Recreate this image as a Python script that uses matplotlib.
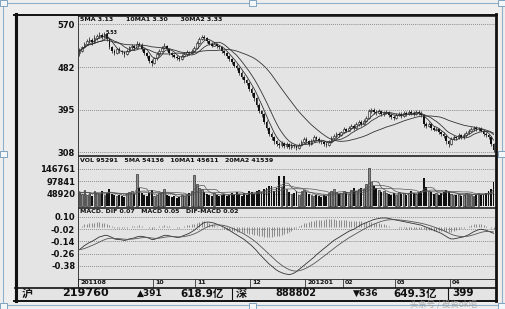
import numpy as np
import pandas as pd
import matplotlib

matplotlib.use('Agg')
import matplotlib.pyplot as plt
from matplotlib.patches import Rectangle
from matplotlib.transforms import blended_transform_factory

plt.rcParams['font.family'] = ['DejaVu Sans', 'Noto Sans CJK SC']

W, H = 505, 309
BG = '#e4e4e4'
INK = '#111111'

# daily closes, 2011-08 .. 2012-04
closes = [
    5.15, 5.22, 5.30, 5.35, 5.38, 5.33, 5.42, 5.45, 5.48, 5.44, 5.50,
    5.40, 5.22, 5.15, 5.10, 5.18, 5.14, 5.12, 5.08, 5.15, 5.22,
    5.25, 5.20, 5.30, 5.28, 5.18, 5.10, 5.05, 4.95, 4.90, 5.00,
    5.08, 5.15, 5.20, 5.26, 5.18, 5.10, 5.06, 5.03, 5.00, 4.98,
    5.05, 5.08, 5.12, 5.10, 5.15, 5.20, 5.32, 5.40, 5.44, 5.42,
    5.35, 5.30, 5.26, 5.30, 5.25, 5.22, 5.15, 5.10, 5.04, 4.98,
    4.92, 4.85, 4.80, 4.70, 4.62, 4.55, 4.50, 4.38, 4.28, 4.18,
    4.05, 3.92, 3.85, 3.70, 3.58, 3.45, 3.38, 3.30, 3.25, 3.22,
    3.26, 3.20, 3.24, 3.18, 3.22, 3.20, 3.17, 3.22, 3.28, 3.35,
    3.30, 3.25, 3.30, 3.38, 3.35, 3.30, 3.28, 3.25, 3.22, 3.28,
    3.36, 3.40, 3.45, 3.42, 3.48, 3.55, 3.52, 3.58, 3.62, 3.58,
    3.65, 3.70, 3.66, 3.72, 3.78, 3.92, 3.95, 3.90, 3.88, 3.92,
    3.85, 3.88, 3.90, 3.84, 3.80, 3.78, 3.84, 3.86, 3.82, 3.88,
    3.86, 3.90, 3.88, 3.86, 3.90, 3.88, 3.84, 3.65, 3.62, 3.66,
    3.58, 3.54, 3.56, 3.48, 3.45, 3.40, 3.30, 3.24, 3.35, 3.38,
    3.36, 3.42, 3.38, 3.42, 3.46, 3.52, 3.55, 3.58, 3.55, 3.56,
    3.52, 3.45, 3.42, 3.38, 3.25, 3.12,
]
first_open = 5.10
highs = [
    5.20, 5.26, 5.34, 5.40, 5.44, 5.41, 5.47, 5.50, 5.53, 5.51, 5.53,
    5.52, 5.42, 5.25, 5.18, 5.21, 5.22, 5.17, 5.15, 5.18, 5.26,
    5.30, 5.28, 5.35, 5.34, 5.31, 5.20, 5.13, 5.07, 4.98, 5.03,
    5.12, 5.19, 5.24, 5.31, 5.28, 5.21, 5.13, 5.09, 5.06, 5.04,
    5.08, 5.12, 5.16, 5.15, 5.18, 5.24, 5.36, 5.44, 5.48, 5.47,
    5.44, 5.38, 5.33, 5.34, 5.32, 5.28, 5.24, 5.17, 5.12, 5.06,
    5.01, 4.95, 4.88, 4.82, 4.73, 4.65, 4.58, 4.52, 4.41, 4.31,
    4.20, 4.08, 3.95, 3.87, 3.73, 3.60, 3.48, 3.41, 3.33, 3.28,
    3.30, 3.29, 3.28, 3.27, 3.26, 3.25, 3.23, 3.26, 3.32, 3.39,
    3.38, 3.33, 3.34, 3.42, 3.41, 3.38, 3.33, 3.31, 3.28, 3.32,
    3.40, 3.44, 3.49, 3.48, 3.52, 3.59, 3.58, 3.62, 3.66, 3.65,
    3.69, 3.74, 3.73, 3.76, 3.82, 3.96, 3.99, 3.98, 3.93, 3.96,
    3.94, 3.92, 3.94, 3.92, 3.87, 3.83, 3.88, 3.90, 3.89, 3.92,
    3.91, 3.94, 3.93, 3.91, 3.94, 3.93, 3.91, 3.86, 3.69, 3.70,
    3.68, 3.61, 3.60, 3.58, 3.51, 3.48, 3.42, 3.33, 3.39, 3.42,
    3.41, 3.46, 3.45, 3.46, 3.50, 3.56, 3.59, 3.62, 3.61, 3.60,
    3.59, 3.54, 3.48, 3.45, 3.40, 3.27,
]
lows = [
    5.05, 5.12, 5.20, 5.27, 5.31, 5.28, 5.31, 5.38, 5.41, 5.40, 5.42,
    5.36, 5.18, 5.10, 5.06, 5.08, 5.11, 5.08, 5.03, 5.06, 5.13,
    5.19, 5.16, 5.18, 5.24, 5.15, 5.06, 5.01, 4.90, 4.84, 4.88,
    4.97, 5.05, 5.12, 5.18, 5.15, 5.07, 5.02, 5.00, 4.96, 4.94,
    4.96, 5.02, 5.05, 5.07, 5.08, 5.13, 5.18, 5.30, 5.37, 5.38,
    5.32, 5.27, 5.22, 5.24, 5.21, 5.18, 5.11, 5.06, 5.00, 4.94,
    4.88, 4.81, 4.76, 4.66, 4.58, 4.50, 4.45, 4.33, 4.23, 4.13,
    4.00, 3.87, 3.80, 3.65, 3.53, 3.40, 3.33, 3.25, 3.20, 3.17,
    3.19, 3.16, 3.17, 3.14, 3.15, 3.16, 3.13, 3.14, 3.20, 3.26,
    3.26, 3.21, 3.22, 3.28, 3.31, 3.26, 3.24, 3.21, 3.18, 3.20,
    3.26, 3.33, 3.37, 3.38, 3.40, 3.46, 3.48, 3.50, 3.55, 3.54,
    3.56, 3.62, 3.62, 3.64, 3.70, 3.76, 3.88, 3.86, 3.84, 3.85,
    3.81, 3.82, 3.85, 3.80, 3.76, 3.74, 3.76, 3.81, 3.78, 3.80,
    3.82, 3.83, 3.84, 3.82, 3.83, 3.84, 3.80, 3.60, 3.57, 3.59,
    3.54, 3.50, 3.51, 3.44, 3.41, 3.36, 3.25, 3.19, 3.22, 3.32,
    3.32, 3.34, 3.34, 3.35, 3.39, 3.44, 3.49, 3.52, 3.51, 3.52,
    3.48, 3.41, 3.38, 3.34, 3.20, 3.08,
]
# volume, thousands of lots
volumes_k = [
    55, 48, 62, 45, 50, 40, 58, 52, 47, 60, 44,
    52, 65, 48, 42, 38, 45, 40, 36, 50, 55,
    60, 48, 127, 70, 52, 45, 40, 50, 62, 38,
    42, 50, 55, 68, 45, 38, 35, 40, 32, 36,
    44, 40, 48, 52, 60, 123, 85, 72, 65, 55,
    48, 44, 40, 52, 45, 38, 42, 48, 40, 45,
    50, 42, 55, 48, 40, 52, 45, 60, 55, 48,
    58, 62, 55, 65, 70, 80, 80, 60, 72, 119,
    75, 119, 65, 55, 48, 52, 60, 45, 58, 62,
    55, 48, 42, 38, 45, 40, 35, 42, 38, 50,
    58, 65, 55, 48, 52, 60, 55, 48, 62, 70,
    58, 65, 72, 68, 85, 150, 95, 80, 70, 62,
    55, 60, 52, 48, 45, 50, 42, 55, 48, 52,
    45, 50, 58, 52, 48, 55, 60, 111, 75, 60,
    55, 48, 52, 45, 50, 55, 62, 58, 48, 45,
    42, 48, 40, 45, 52, 48, 44, 40, 45, 50,
    42, 48, 52, 58, 65, 95.291,
]
dif = [
    -0.22, -0.20, -0.18, -0.165, -0.15, -0.14, -0.125, -0.11, -0.095, -0.09, -0.08,
    -0.08, -0.09, -0.10, -0.115, -0.12, -0.12, -0.125, -0.13, -0.125, -0.115,
    -0.11, -0.105, -0.095, -0.09, -0.09, -0.095, -0.10, -0.11, -0.12, -0.12,
    -0.11, -0.10, -0.09, -0.08, -0.08, -0.085, -0.09, -0.095, -0.10, -0.10,
    -0.09, -0.08, -0.07, -0.06, -0.045, -0.03, -0.01, 0.01, 0.03, 0.045,
    0.05, 0.05, 0.045, 0.04, 0.03, 0.02, 0.01, 0.00, -0.015, -0.03,
    -0.045, -0.06, -0.075, -0.09, -0.105, -0.12, -0.14, -0.16, -0.18, -0.205,
    -0.23, -0.26, -0.285, -0.31, -0.335, -0.36, -0.38, -0.40, -0.42, -0.435,
    -0.445, -0.455, -0.46, -0.465, -0.46, -0.45, -0.435, -0.415, -0.395, -0.375,
    -0.355, -0.335, -0.315, -0.295, -0.27, -0.25, -0.23, -0.21, -0.19, -0.17,
    -0.15, -0.13, -0.115, -0.10, -0.085, -0.07, -0.055, -0.04, -0.03, -0.02,
    -0.005, 0.01, 0.025, 0.035, 0.045, 0.055, 0.065, 0.075, 0.08, 0.085,
    0.09, 0.09, 0.09, 0.085, 0.08, 0.075, 0.07, 0.065, 0.06, 0.055,
    0.05, 0.045, 0.04, 0.035, 0.03, 0.025, 0.02, 0.01, 0.00, -0.01,
    -0.02, -0.03, -0.04, -0.05, -0.06, -0.075, -0.09, -0.105, -0.115, -0.115,
    -0.11, -0.105, -0.10, -0.095, -0.085, -0.075, -0.06, -0.045, -0.035, -0.025,
    -0.02, -0.025, -0.03, -0.04, -0.05, -0.06,
]

month_idx = [0, 30, 47, 69, 91, 106, 127, 149]
month_labels = ['201108', '10', '11', '12', '201201', '02', '03', '04']

price_ticks = [5.70, 4.82, 3.95, 3.08]
price_labels = ['570', '482', '395', '308']
vol_ticks = [146761, 97841, 48920]
macd_ticks = [0.10, -0.02, -0.14, -0.26, -0.38]

price_title = '5MA 3.13      10MA1 3.30      30MA2 3.33'
vol_title = 'VOL 95291   5MA 54136   10MA1 45611   20MA2 41539'
macd_title = 'MACD. DIF 0.07   MACD 0.05   DIF-MACD 0.02'

status_texts = ['沪', '219760', '▲391', '618.9亿', '深', '888802', '▼636', '649.3亿', '399']
watermark = '头条号 / 投资ok吧'


def px_axes(fig, x0, y0, x1, y1):
    # pixel box, origin top-left
    return fig.add_axes([x0 / W, 1 - y1 / H, (x1 - x0) / W, (y1 - y0) / H])


def style_panel(ax, ticks, labels, ylim, n):
    ax.set_facecolor('none')
    ax.set_xlim(-0.6, n - 0.4)
    ax.set_ylim(*ylim)
    ax.set_yticks(ticks)
    ax.set_yticklabels(labels, fontsize=6, fontweight='bold', color=INK)
    ax.tick_params(axis='y', length=0, pad=2)
    ax.set_xticks([])
    for t in ticks:
        ax.axhline(t, color='#444444', lw=0.5, ls=(0, (1, 1.8)), zorder=1)
    ax.spines['right'].set_visible(False)
    for s in ['left', 'top', 'bottom']:
        ax.spines[s].set_linewidth(0.6)
        ax.spines[s].set_color('#222222')


c = np.array(closes)
o = np.r_[first_open, c[:-1]]
hi = np.array(highs)
lo = np.array(lows)
vol = np.array(volumes_k) * 1000
n = len(c)
x = np.arange(n)
up = c >= o

fig = plt.figure(figsize=(W / 100, H / 100), dpi=100)
fig.patch.set_facecolor('#eeeeee')

bg = fig.add_axes([0, 0, 1, 1])
bg.set_xlim(0, W)
bg.set_ylim(H, 0)
bg.axis('off')
bg.add_patch(Rectangle((14, 15), 482, 285, facecolor=BG, edgecolor='none'))

# price panel
ax = px_axes(fig, 78, 16, 495, 155)
style_panel(ax, price_ticks, price_labels, (3.019, 5.864), n)
ax.vlines(x, lo, hi, color=INK, lw=0.5, zorder=3)
ax.bar(x[up], np.maximum(c - o, 0.008)[up], bottom=o[up], width=0.7,
       facecolor=BG, edgecolor=INK, linewidth=0.4, zorder=4)
ax.bar(x[~up], (o - c)[~up], bottom=c[~up], width=0.7, color=INK, linewidth=0, zorder=4)
for win in (5, 10, 30):
    ma = pd.Series(c).rolling(win, min_periods=1).mean()
    ax.plot(x, ma, color='#333333', lw=0.6, zorder=5)
imax = int(np.argmax(hi))
ax.text(imax + 2.5, hi[imax], '%.2f' % hi[imax], fontsize=3.5, fontweight='bold',
        color=INK, va='center')
ax.text(0.005, 0.995, price_title, transform=ax.transAxes, fontsize=4.5,
        fontweight='bold', color=INK, va='top')

# volume panel
axv = px_axes(fig, 78, 156, 495, 207)
style_panel(axv, vol_ticks, [str(v) for v in vol_ticks], (-3900, 195700), n)
axv.bar(x[up], vol[up], width=0.75, facecolor='#8c8c8c', edgecolor=INK, linewidth=0.4, zorder=3)
axv.bar(x[~up], vol[~up], width=0.75, color=INK, linewidth=0, zorder=3)
for win in (5, 10, 20):
    vma = pd.Series(vol).rolling(win, min_periods=1).mean()
    axv.plot(x, vma, color='#555555', lw=0.5, zorder=4)
axv.text(0.005, 0.97, vol_title, transform=axv.transAxes, fontsize=4.5,
         fontweight='bold', color=INK, va='top')

# macd panel
axm = px_axes(fig, 78, 208, 495, 279)
style_panel(axm, macd_ticks, ['%.2f' % t for t in macd_ticks], (-0.508, 0.188), n)
d = pd.Series(dif)
dea = d.ewm(span=9, adjust=False).mean()
hist = d - dea
axm.vlines(x, 0, hist, color='#666666', lw=0.5, zorder=2)
axm.plot(x, d, color='#333333', lw=0.6, zorder=3)
axm.plot(x, dea, color='#555555', lw=0.6, zorder=3)
axm.text(0.005, 0.98, macd_title, transform=axm.transAxes, fontsize=4.5,
         fontweight='bold', color=INK, va='top')

blend = blended_transform_factory(axm.transData, axm.transAxes)
for m, lab in zip(month_idx, month_labels):
    axm.plot([m - 0.5, m - 0.5], [0, -0.11], transform=blend, clip_on=False,
             color=INK, lw=0.5)
    axm.text(m + 0.3, -0.015, lab, transform=blend, fontsize=4.5,
             fontweight='bold', color=INK, va='top', ha='left')

# frame, status bar, window handles
fg = fig.add_axes([0, 0, 1, 1], facecolor='none')
fg.set_xlim(0, W)
fg.set_ylim(H, 0)
fg.axis('off')
fg.add_patch(Rectangle((2.5, 3), 499, 302, fill=False, edgecolor='#8fb0c8', lw=0.8))
for hx, hy in [(0, 0), (249, 0), (498, 0), (0, 151), (498, 151),
               (0, 303), (249, 303), (498, 303)]:
    fg.add_patch(Rectangle((hx, hy), 7, 6, facecolor='#f4f7fa', edgecolor='#7fa3bf', lw=0.7))
fg.plot([15.5, 15.5], [14, 301], color=INK, lw=2.2)
fg.plot([14, 497], [15, 15], color=INK, lw=1.4)
fg.plot([496, 496], [14, 301], color=INK, lw=2.0)
fg.plot([14, 497], [300.5, 300.5], color=INK, lw=1.4)
fg.plot([15, 496], [287.5, 287.5], color=INK, lw=1.2)
fg.plot([78, 78], [279, 287.5], color='#222222', lw=0.6)
fg.plot([232, 232], [288, 300], color=INK, lw=0.8)
fg.plot([448, 448], [288, 300], color=INK, lw=0.8)

status_x = [22, 62, 137, 180, 236, 275, 353, 393, 452]
status_size = [8, 8, 6.5, 7.5, 8, 7, 6.5, 7.5, 7.5]
for sx, txt, fs in zip(status_x, status_texts, status_size):
    fg.text(sx, 293.5, txt, fontsize=fs, fontweight='bold', color=INK, va='center', ha='left')
fg.text(410, 303.5, watermark, fontsize=6, color='#9a9a9a', alpha=0.8,
        va='center', ha='left', family=['Noto Sans CJK SC', 'DejaVu Sans'])

fig.savefig('out.png', dpi=100, facecolor=fig.get_facecolor())
